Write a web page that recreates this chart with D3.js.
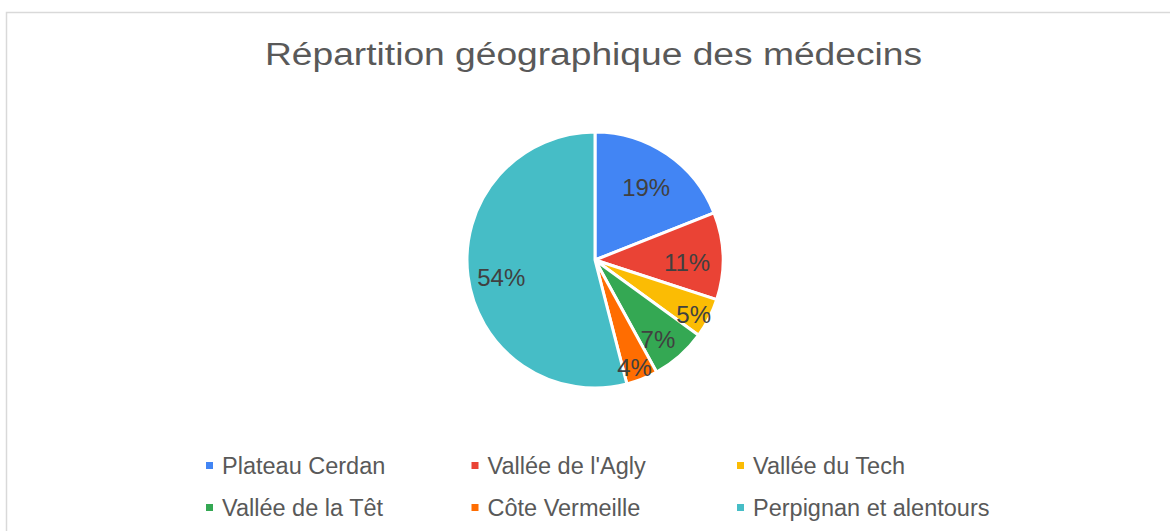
<!DOCTYPE html>
<html>
<head>
<meta charset="utf-8">
<script src="https://cdn.jsdelivr.net/npm/d3@7"></script>
<style>
  body { margin: 0; background: #fff; }
  svg { display: block; font-family: "Liberation Sans", Arial, sans-serif; }
</style>
</head>
<body>
<div id="chart"></div>
<script>
const regions = ['Plateau Cerdan', "Vallée de l'Agly", 'Vallée du Tech', 'Vallée de la Têt', 'Côte Vermeille', 'Perpignan et alentours'];
const shares = [19, 11, 5, 7, 4, 54];
const colors = ['#4285F4', '#EA4335', '#FBBC04', '#34A853', '#FF6D01', '#46BDC6'];
const title = 'Répartition géographique des médecins';

const width = 1170;
const height = 531;
const cx = 595, cy = 260, radius = 128;

const svg = d3.select('#chart')
  .append('svg')
  .attr('width', width)
  .attr('height', height);

// chart frame
svg.append('rect')
  .attr('x', 6.5)
  .attr('y', 12.5)
  .attr('width', 1200)
  .attr('height', 600)
  .attr('fill', '#fff')
  .attr('stroke', '#D9D9D9')
  .attr('stroke-width', 1.5);

svg.append('text')
  .attr('x', 593.5)
  .attr('y', 64.5)
  .attr('text-anchor', 'middle')
  .attr('font-size', 31)
  .attr('fill', '#595959')
  .attr('textLength', 657)
  .attr('lengthAdjust', 'spacingAndGlyphs')
  .text(title);

const data = regions.map((name, i) => ({ name, value: shares[i], color: colors[i] }));

const pie = d3.pie().value(d => d.value).sort(null);
const arc = d3.arc().innerRadius(0).outerRadius(radius);
const arcs = pie(data);

const g = svg.append('g').attr('transform', `translate(${cx},${cy})`);

g.selectAll('path')
  .data(arcs)
  .enter()
  .append('path')
  .attr('d', arc)
  .attr('fill', d => d.data.color)
  .attr('stroke', '#fff')
  .attr('stroke-width', 3)
  .attr('stroke-linejoin', 'round');

// labels placed "inside end": push the label box out until its far corner nears the rim
const labels = g.selectAll('text.lbl')
  .data(arcs)
  .enter()
  .append('text')
  .attr('class', 'lbl')
  .attr('text-anchor', 'middle')
  .attr('dy', '0.35em')
  .attr('font-size', 24)
  .attr('fill', '#404040')
  .text(d => d.data.value + '%');

labels.each(function (d) {
  const box = this.getBBox();
  const hw = box.width / 2, hh = 11;
  const a = (d.startAngle + d.endAngle) / 2;
  const ux = Math.sin(a), uy = -Math.cos(a);
  const limit = radius - 10;
  let dist, shift;
  if (d.data.value < 6) {
    // too narrow to hold the label: let it straddle the rim
    dist = radius - 15;
    shift = 3;
  } else {
    const b = 2 * (Math.abs(ux) * hw + Math.abs(uy) * hh);
    const c = hw * hw + hh * hh - limit * limit;
    dist = (-b + Math.sqrt(b * b - 4 * c)) / 2;
    shift = 6;
  }
  d3.select(this).attr('x', ux * dist - 2).attr('y', uy * dist + shift);
});

// legend, three columns by two rows
const colX = [206, 471.5, 737];
const rowY = [474, 516];

const legend = svg.selectAll('g.legend')
  .data(data)
  .enter()
  .append('g')
  .attr('class', 'legend')
  .attr('transform', (d, i) => `translate(${colX[i % 3]},${rowY[Math.floor(i / 3)]})`);

legend.append('rect')
  .attr('x', 0)
  .attr('y', -12)
  .attr('width', 7)
  .attr('height', 7)
  .attr('fill', d => d.color);

legend.append('text')
  .attr('x', 16)
  .attr('y', 0)
  .attr('font-size', 23.5)
  .attr('fill', '#595959')
  .text(d => d.name);
</script>
</body>
</html>
